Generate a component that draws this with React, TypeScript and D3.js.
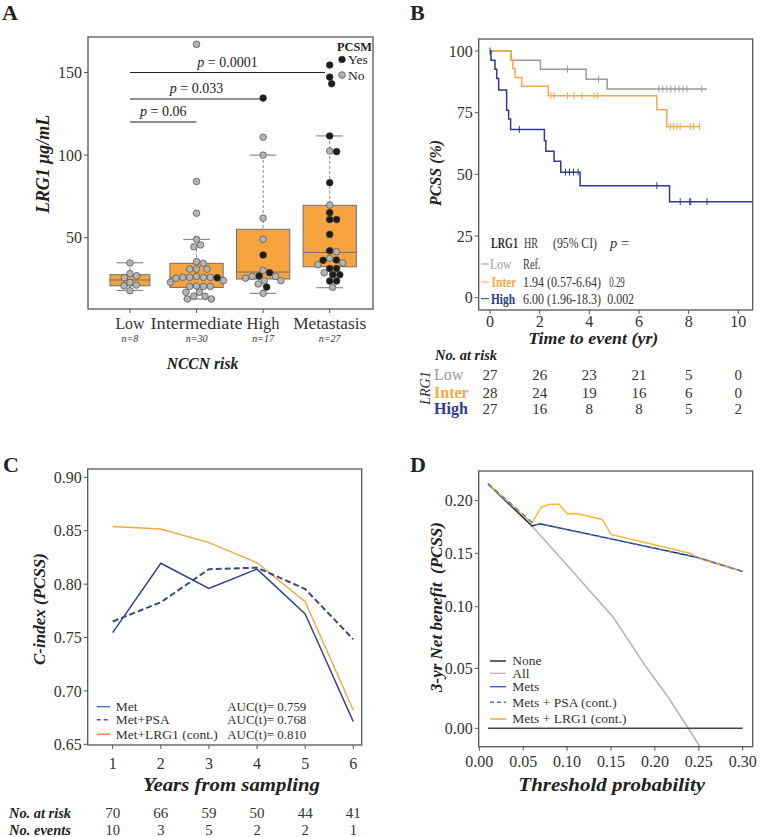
import React from 'react';
import * as d3 from 'd3';

// ---------- Panel A data ----------
const categories = ['Low', 'Intermediate', 'High', 'Metastasis'];
const categoryN = ['n=8', 'n=30', 'n=17', 'n=27'];
const lowVals = [34.7, 28.2, 27.0, 25.8, 23.0, 21.3, 20.9, 17.9];
const lowPcsm = [0, 0, 0, 0, 0, 0, 0, 0];
const interVals = [167, 84, 64.8, 49, 45.6, 44.5, 35.5, 34.5, 31, 31, 31, 26.5, 26, 26, 26, 25.8, 26, 25.5, 24, 23, 20.5, 20.5, 20.8, 20.5, 17, 17, 14.6, 14.6, 12.9, 12.9];
const interPcsm = [0, 0, 0, 0, 0, 0, 0, 0, 0, 0, 0, 0, 0, 0, 0, 1, 0, 0, 0, 0, 0, 0, 0, 0, 0, 0, 0, 0, 0, 0];
const highVals = [134.5, 110.8, 100, 61.8, 49, 39.5, 30.2, 28.8, 26.8, 26.6, 26.6, 25.5, 24, 24, 22, 20.1, 16.3];
const highPcsm = [1, 0, 0, 0, 0, 1, 0, 1, 1, 0, 0, 0, 0, 0, 0, 1, 0];
const metVals = [154.5, 147.2, 143.2, 111.6, 102.5, 102.1, 83.3, 69.8, 65.2, 61, 61, 52, 42.1, 41.5, 37.5, 36.3, 36.5, 34.8, 33.6, 31.3, 31.3, 28.8, 27.6, 27.6, 23.8, 23.8, 20];
const metPcsm = [1, 1, 1, 1, 0, 1, 1, 0, 1, 1, 1, 1, 1, 0, 0, 1, 1, 0, 0, 1, 1, 0, 1, 1, 1, 1, 0];
const boxQ1 = [20.9, 19.9, 25, 32.4];
const boxMedian = [24.4, 26, 29.2, 41.1];
const boxQ3 = [27.6, 34.5, 55.1, 69.6];
const whiskerLo = [18.1, 12.9, 16.3, 19.7];
const whiskerHi = [34.8, 49, 100, 111.6];
const boxWidth = [0.6, 0.8, 0.8, 0.8];
const yTicksA = [50, 100, 150];
const pBrackets = [
  { label: '0.06', from: 1, to: 2, y: 120 },
  { label: '0.033', from: 1, to: 3, y: 134 },
  { label: '0.0001', from: 1, to: 3.93, y: 150 },
];

// ---------- Panel B data ----------
const lowTimes = [0, 0.85, 2.03, 3.87, 4.72, 8.74];
const lowSurv = [100, 96.3, 92.6, 88.5, 84.6, 84.6];
const lowCens = [3.12, 4.37, 6.8, 6.96, 7.12, 7.29, 7.45, 7.61, 7.77, 7.93, 8.53];
const interTimes = [0, 0.85, 0.92, 1.01, 1.28, 2.35, 6.72, 7.12, 8.47];
const interSurv = [100, 96.4, 92.9, 89.3, 85.7, 81.9, 76.2, 69.4, 69.4];
const interCens = [2.45, 2.58, 3.12, 3.39, 3.71, 4.19, 4.33, 7.26, 7.39, 7.53, 7.66, 8.06, 8.2, 8.44];
const highTimes = [0, 0.04, 0.2, 0.27, 0.35, 0.67, 0.75, 0.83, 2.19, 2.25, 2.58, 2.85, 3.63, 7.23, 10.6];
const highSurv = [100, 96.3, 92.6, 88.9, 84.2, 76.0, 72.4, 68.2, 63.6, 59.4, 55.3, 50.9, 45.4, 38.9, 38.9];
const highCens = [0, 1.18, 3.04, 3.2, 3.36, 3.55, 6.72, 7.66, 8.04, 8.09, 8.74];
const xTicksB = [0, 2, 4, 6, 8, 10];
const yTicksB = [0, 25, 50, 75, 100];
const riskLow = [27, 26, 23, 21, 5, 0];
const riskInter = [28, 24, 19, 16, 6, 0];
const riskHigh = [27, 16, 8, 8, 5, 2];

// ---------- Panel C data ----------
const cYears = [1, 2, 3, 4, 5, 6];
const cMet = [0.7545, 0.8195, 0.796, 0.814, 0.772, 0.6712];
const cMetPSA = [0.765, 0.783, 0.814, 0.8154, 0.7954, 0.7483];
const cMetLRG1 = [0.854, 0.8516, 0.8388, 0.82, 0.7835, 0.6818];
const yTicksC = [0.65, 0.7, 0.75, 0.8, 0.85, 0.9];
const atRiskC = [70, 66, 59, 50, 44, 41];
const eventsC = [10, 3, 5, 2, 2, 1];
const cLegend = ['Met', 'Met+PSA', 'Met+LRG1 (cont.)'];
const cAuc = ['AUC(t)= 0.759', 'AUC(t)= 0.768', 'AUC(t)= 0.810'];

// ---------- Panel D data ----------
const noneT = [0.01, 0.3];
const noneNB = [0, 0];
const allT = [0.01, 0.06, 0.115, 0.153, 0.19, 0.215, 0.238, 0.252];
const allNB = [0.216, 0.176, 0.125, 0.091, 0.051, 0.026, 0, -0.016];
const metsT = [0.01, 0.06, 0.069, 0.15, 0.2476, 0.3];
const metsNB = [0.216, 0.176, 0.178, 0.1637, 0.1463, 0.133];
const psaT = [0.01, 0.058, 0.064, 0.069, 0.15, 0.2476, 0.3];
const psaNB = [0.216, 0.181, 0.177, 0.178, 0.1637, 0.1463, 0.133];
const lrgT = [0.01, 0.06, 0.0703, 0.0805, 0.0908, 0.1003, 0.111, 0.14, 0.15, 0.24, 0.2495, 0.3];
const lrgNB = [0.216, 0.1788, 0.1938, 0.1966, 0.1966, 0.1875, 0.1878, 0.1822, 0.168, 0.15, 0.1453, 0.133];
const xTicksD = [0, 0.05, 0.1, 0.15, 0.2, 0.25, 0.3];
const yTicksD = [0, 0.05, 0.1, 0.15, 0.2];
const dLegend = ['None', 'All', 'Mets', 'Mets + PSA (cont.)', 'Mets + LRG1 (cont.)'];

// ---------- styles ----------
const FONT = "'Liberation Serif', 'Times New Roman', serif";
const FRAME = '#555555';
const BOX_FILL = '#F6A43F';
const KM_GRAY = '#9b9b9b';
const KM_ORANGE = '#F7A847';
const KM_BLUE = '#2D3A8E';
const C_ORANGE = '#F3A83C';
const C_BLUE = '#2E3E90';
const C_DASH = '#3B4B80';
const D_ORANGE = '#FDB934';
const D_METS = '#222a55';
const D_DASH = '#4B78D8';

function swarm(ys: number[], r: number): number[] {
  const idx = ys.map((_, i) => i).sort((a, b) => ys[a] - ys[b]);
  const placed: { x: number; y: number }[] = [];
  const xs = new Array(ys.length).fill(0);
  const d = 2 * r + 0.3;
  for (const i of idx) {
    const y = ys[i];
    const cands = [0];
    for (const p of placed) {
      const dy = Math.abs(p.y - y);
      if (dy < d) {
        const dx = Math.sqrt(d * d - dy * dy);
        cands.push(p.x + dx, p.x - dx);
      }
    }
    cands.sort((a, b) => Math.abs(a) - Math.abs(b));
    for (const c of cands) {
      if (placed.every((p) => (p.x - c) ** 2 + (p.y - y) ** 2 >= d * d - 0.01)) {
        xs[i] = c;
        placed.push({ x: c, y });
        break;
      }
    }
  }
  return xs;
}

function stepAt(times: number[], surv: number[], t: number) {
  const i = Math.max(0, d3.bisectRight(times, t) - 1);
  return surv[i];
}

const zip = (a: number[], b: number[]) => a.map((v, i) => [v, b[i]] as [number, number]);

export default function App() {
  const xA = d3.scaleLinear().domain([0.37, 4.65]).range([88, 373]);
  const yA = d3.scaleLinear().domain([50, 150]).range([237.7, 72.5]);
  const aTop = 37, aBot = 309;
  const groups = [
    { vals: lowVals, pc: lowPcsm },
    { vals: interVals, pc: interPcsm },
    { vals: highVals, pc: highPcsm },
    { vals: metVals, pc: metPcsm },
  ];
  const R = 3.3;
  const catLen = [29, 92, 33, 73];

  const xB = d3.scaleLinear().domain([0, 10]).range([490, 738.3]);
  const yB = d3.scaleLinear().domain([0, 100]).range([297.7, 51]);
  const bL = 478.7, bR = 752.7, bT = 39, bB = 310;
  const km = d3.line<[number, number]>().x((d) => xB(d[0])).y((d) => yB(d[1])).curve(d3.curveStepAfter);
  const kmSets = [
    { t: lowTimes, s: lowSurv, c: lowCens, col: KM_GRAY },
    { t: interTimes, s: interSurv, c: interCens, col: KM_ORANGE },
    { t: highTimes, s: highSurv, c: highCens, col: KM_BLUE },
  ];

  const xC = d3.scaleLinear().domain([1, 6]).range([112.7, 353.3]);
  const yC = d3.scaleLinear().domain([0.65, 0.9]).range([744.3, 477.3]);
  const cL = 87.7, cR = 361.7, cT = 469, cB = 745;
  const lineC = d3.line<[number, number]>().x((d) => xC(d[0])).y((d) => yC(d[1]));

  const xD = d3.scaleLinear().domain([0, 0.3]).range([479.3, 742.7]);
  const yD = d3.scaleLinear().domain([0, 0.05, 0.1, 0.15, 0.2]).range([728.3, 668.3, 606.7, 553.3, 500.7]);
  const dL = 478.7, dR = 752.7, dT = 471, dB = 746.7;
  const lineD = d3.line<[number, number]>().x((d) => xD(d[0])).y((d) => yD(d[1]));

  const tickFS = 16;
  const adj = 'spacingAndGlyphs';

  return (
    <svg width={760} height={837} style={{ position: 'absolute', left: 0, top: 0, background: '#fff' }} fontFamily={FONT}>
      <defs>
        <clipPath id="clipB"><rect x={bL} y={bT} width={bR - bL} height={bB - bT} /></clipPath>
        <clipPath id="clipD"><rect x={dL} y={dT} width={dR - dL} height={dB - dT} /></clipPath>
      </defs>
      <rect x={0} y={0} width={760} height={837} fill="#fff" />

      <text x={2} y={20} fontSize={22} fontWeight="bold" fill="#222">A</text>
      <text x={410} y={20} fontSize={22} fontWeight="bold" fill="#222">B</text>
      <text x={3} y={472} fontSize={22} fontWeight="bold" fill="#222">C</text>
      <text x={410} y={472} fontSize={22} fontWeight="bold" fill="#222">D</text>

      {/* ================= Panel A ================= */}
      <g>
        {categories.map((c, i) => {
          const cx = xA(i + 1);
          const hw = (xA(boxWidth[i]) - xA(0)) / 2;
          const cap = (xA(0.4) - xA(0)) / 2;
          return (
            <g key={c}>
              <line x1={cx} x2={cx} y1={yA(whiskerHi[i])} y2={yA(boxQ3[i])} stroke="#888" strokeDasharray="3,2" />
              <line x1={cx} x2={cx} y1={yA(boxQ1[i])} y2={yA(whiskerLo[i])} stroke="#888" strokeDasharray="3,2" />
              <line x1={cx - cap} x2={cx + cap} y1={yA(whiskerHi[i])} y2={yA(whiskerHi[i])} stroke="#777" />
              <line x1={cx - cap} x2={cx + cap} y1={yA(whiskerLo[i])} y2={yA(whiskerLo[i])} stroke="#777" />
              <rect x={cx - hw} y={yA(boxQ3[i])} width={2 * hw} height={yA(boxQ1[i]) - yA(boxQ3[i])} fill={BOX_FILL} stroke="#6e6e6e" strokeWidth={1} />
              <line x1={cx - hw} x2={cx + hw} y1={yA(boxMedian[i])} y2={yA(boxMedian[i])} stroke="#6e6e6e" strokeWidth={1} />
            </g>
          );
        })}
        {groups.map((g, gi) => {
          const ys = g.vals.map((v) => yA(v));
          const offs = swarm(ys, R);
          return (
            <g key={gi}>
              {g.vals.map((v, j) => (
                <circle key={j} cx={xA(gi + 1) + offs[j]} cy={ys[j]} r={R}
                  fill={g.pc[j] ? '#1c1c1c' : '#b4b4b4'} stroke={g.pc[j] ? '#333' : '#5a5a5a'} strokeWidth={0.8} />
              ))}
            </g>
          );
        })}
        {pBrackets.map((b) => (
          <g key={b.label}>
            <line x1={xA(b.from)} x2={xA(b.to)} y1={yA(b.y)} y2={yA(b.y)} stroke="#222" strokeWidth={1.1} />
            <text x={(xA(b.from) + xA(b.to)) / 2} y={yA(b.y) - 6} fontSize={14} textAnchor="middle" fill="#222">
              <tspan fontStyle="italic">p</tspan> = {b.label}
            </text>
          </g>
        ))}
        <text x={337} y={50.5} fontSize={13} fontWeight="bold" fill="#222" textLength={35} lengthAdjust={adj}>PCSM</text>
        <circle cx={342} cy={59.5} r={3.3} fill="#1c1c1c" stroke="#333" strokeWidth={0.8} />
        <text x={348} y={64} fontSize={13.5} fill="#222">Yes</text>
        <circle cx={342} cy={75} r={3.3} fill="#b4b4b4" stroke="#5a5a5a" strokeWidth={0.8} />
        <text x={348} y={79.5} fontSize={13.5} fill="#222">No</text>
        <rect x={88} y={aTop} width={373 - 88} height={aBot - aTop} fill="none" stroke={FRAME} strokeWidth={1.3} />
        {yTicksA.map((t) => (
          <g key={t}>
            <line x1={84} x2={88} y1={yA(t)} y2={yA(t)} stroke={FRAME} />
            <text x={82} y={yA(t)} dy="0.35em" fontSize={tickFS} textAnchor="end" fill="#333">{t}</text>
          </g>
        ))}
        {categories.map((c, i) => (
          <g key={c}>
            <line x1={xA(i + 1)} x2={xA(i + 1)} y1={aBot} y2={aBot + 4} stroke={FRAME} />
            <text x={xA(i + 1)} y={328.5} fontSize={tickFS} textAnchor="middle" fill="#333" textLength={catLen[i]} lengthAdjust={adj}>{c}</text>
            <text x={xA(i + 1)} y={342} fontSize={10} fontStyle="italic" textAnchor="middle" fill="#333">{categoryN[i]}</text>
          </g>
        ))}
        <text x={202.5} y={369} fontSize={16} fontWeight="bold" fontStyle="italic" textAnchor="middle" fill="#222" textLength={71.7} lengthAdjust={adj}>NCCN risk</text>
        <text transform="translate(49,164) rotate(-90)" fontSize={18} fontWeight="bold" fontStyle="italic" textAnchor="middle" fill="#222">LRG1 μg/mL</text>
      </g>

      {/* ================= Panel B ================= */}
      <g>
        <g clipPath="url(#clipB)">
          {kmSets.map((k, i) => (
            <g key={i}>
              <path d={km(zip(k.t, k.s)) || ''} fill="none" stroke={k.col} strokeWidth={1.5} />
              {k.c.map((ct, j) => {
                const yy = yB(stepAt(k.t, k.s, ct));
                return <line key={j} x1={xB(ct)} x2={xB(ct)} y1={yy - 3.5} y2={yy + 3.5} stroke={k.col} strokeWidth={1} />;
              })}
            </g>
          ))}
        </g>
        <rect x={bL} y={bT} width={bR - bL} height={bB - bT} fill="none" stroke={FRAME} strokeWidth={1.3} />
        {yTicksB.map((t) => (
          <g key={t}>
            <line x1={bL - 4} x2={bL} y1={yB(t)} y2={yB(t)} stroke={FRAME} />
            <text x={bL - 6} y={yB(t)} dy="0.35em" fontSize={tickFS} textAnchor="end" fill="#333">{t}</text>
          </g>
        ))}
        {xTicksB.map((t) => (
          <g key={t}>
            <line x1={xB(t)} x2={xB(t)} y1={bB} y2={bB + 4} stroke={FRAME} />
            <text x={xB(t)} y={327} fontSize={tickFS} textAnchor="middle" fill="#333">{t}</text>
          </g>
        ))}
        <text x={593.3} y={343.5} fontSize={17} fontWeight="bold" fontStyle="italic" textAnchor="middle" fill="#222" textLength={130} lengthAdjust={adj}>Time to event (yr)</text>
        <text transform="translate(441,173) rotate(-90)" fontSize={16} fontWeight="bold" fontStyle="italic" textAnchor="middle" fill="#222">PCSS (%)</text>
        <g fontSize={14.5} fill="#333">
          <text x={491} y={247.5} fontWeight="bold" textLength={27} lengthAdjust={adj}>LRG1</text>
          <text x={524} y={247.5} textLength={14} lengthAdjust={adj}>HR</text>
          <text x={553} y={247.5} textLength={44} lengthAdjust={adj}>(95% CI)</text>
          <text x={610} y={247.5}><tspan fontStyle="italic">p</tspan> =</text>
          <line x1={481} x2={489} y1={264} y2={264} stroke={KM_GRAY} />
          <text x={490} y={269} fill={KM_GRAY} textLength={21.5} lengthAdjust={adj}>Low</text>
          <text x={523} y={269} textLength={17.5} lengthAdjust={adj}>Ref.</text>
          <line x1={481} x2={489} y1={282} y2={282} stroke={KM_ORANGE} />
          <text x={491.5} y={287} fill={KM_ORANGE} fontWeight="bold" textLength={25} lengthAdjust={adj}>Inter</text>
          <text x={523} y={287} textLength={78} lengthAdjust={adj}>1.94 (0.57-6.64)</text>
          <text x={609.3} y={287} textLength={15.4} lengthAdjust={adj}>0.29</text>
          <line x1={481} x2={489} y1={298.7} y2={298.7} stroke={KM_BLUE} />
          <text x={491} y={303.5} fill={KM_BLUE} fontWeight="bold" textLength={24} lengthAdjust={adj}>High</text>
          <text x={523} y={303.5} textLength={78} lengthAdjust={adj}>6.00 (1.96-18.3)</text>
          <text x={607.3} y={303.5} textLength={26.7} lengthAdjust={adj}>0.002</text>
        </g>
        <text x={435} y={360} fontSize={15} fontWeight="bold" fontStyle="italic" fill="#222" textLength={62} lengthAdjust={adj}>No. at risk</text>
        <text transform="translate(430,388) rotate(-90)" fontSize={14} fontStyle="italic" textAnchor="middle" fill="#333">LRG1</text>
        {[
          { lab: 'Low', vals: riskLow, col: KM_GRAY, w: 'normal', y: 380 },
          { lab: 'Inter', vals: riskInter, col: KM_ORANGE, w: 'bold', y: 397.5 },
          { lab: 'High', vals: riskHigh, col: KM_BLUE, w: 'bold', y: 414 },
        ].map((r) => (
          <g key={r.lab}>
            <text x={434} y={r.y} fontSize={16} fontWeight={r.w} fill={r.col}>{r.lab}</text>
            {r.vals.map((v, j) => (
              <text key={j} x={xB(xTicksB[j])} y={r.y} fontSize={15} textAnchor="middle" fill="#333">{v}</text>
            ))}
          </g>
        ))}
      </g>

      {/* ================= Panel C ================= */}
      <g>
        <path d={lineC(zip(cYears, cMetLRG1)) || ''} fill="none" stroke={C_ORANGE} strokeWidth={1.4} />
        <path d={lineC(zip(cYears, cMet)) || ''} fill="none" stroke={C_BLUE} strokeWidth={1.4} />
        <path d={lineC(zip(cYears, cMetPSA)) || ''} fill="none" stroke={C_DASH} strokeWidth={2} strokeDasharray="6,3" />
        <rect x={cL} y={cT} width={cR - cL} height={cB - cT} fill="none" stroke={FRAME} strokeWidth={1.3} />
        {yTicksC.map((t) => (
          <g key={t}>
            <line x1={cL - 4} x2={cL} y1={yC(t)} y2={yC(t)} stroke={FRAME} />
            <text x={cL - 6} y={yC(t)} dy="0.35em" fontSize={tickFS} textAnchor="end" fill="#333">{t.toFixed(2)}</text>
          </g>
        ))}
        {cYears.map((t, j) => (
          <g key={t}>
            <line x1={xC(t)} x2={xC(t)} y1={cB} y2={cB + 4} stroke={FRAME} />
            <text x={xC(t)} y={769} fontSize={tickFS} textAnchor="middle" fill="#333">{t}</text>
            <text x={xC(t)} y={818} fontSize={15} textAnchor="middle" fill="#333">{atRiskC[j]}</text>
            <text x={xC(t)} y={834.5} fontSize={14.5} textAnchor="middle" fill="#333">{eventsC[j]}</text>
          </g>
        ))}
        <text x={9} y={818} fontSize={15} fontWeight="bold" fontStyle="italic" fill="#222" textLength={62} lengthAdjust={adj}>No. at risk</text>
        <text x={9} y={834.5} fontSize={14.5} fontWeight="bold" fontStyle="italic" fill="#222" textLength={62} lengthAdjust={adj}>No. events</text>
        <text x={231.5} y={791} fontSize={18} fontWeight="bold" fontStyle="italic" textAnchor="middle" fill="#222" textLength={177} lengthAdjust={adj}>Years from sampling</text>
        <text transform="translate(45,609) rotate(-90)" fontSize={17} fontWeight="bold" fontStyle="italic" textAnchor="middle" fill="#222">C-index (PCSS)</text>
        {cLegend.map((l, i) => {
          const yy = [706.7, 719.8, 734.3][i];
          const col = ['#4A72CF', '#42589F', '#F7833A'][i];
          return (
            <g key={l}>
              <line x1={96.7} x2={110} y1={yy} y2={yy} stroke={col} strokeWidth={1.4} strokeDasharray={i === 1 ? '4,3' : undefined} />
              <text x={115.7} y={yy} dy="0.33em" fontSize={13.5} fill="#333">{l}</text>
              <text x={227.3} y={yy} dy="0.33em" fontSize={13.5} fill="#333" textLength={79} lengthAdjust={adj}>{cAuc[i]}</text>
            </g>
          );
        })}
      </g>

      {/* ================= Panel D ================= */}
      <g>
        <g clipPath="url(#clipD)">
          <path d={lineD(zip(allT, allNB)) || ''} fill="none" stroke="#b5b5b5" strokeWidth={1.6} />
          <path d={lineD(zip(noneT, noneNB)) || ''} fill="none" stroke="#444" strokeWidth={1.4} />
          <path d={lineD(zip(metsT, metsNB)) || ''} fill="none" stroke={D_METS} strokeWidth={1.5} />
          <path d={lineD(zip(lrgT, lrgNB)) || ''} fill="none" stroke={D_ORANGE} strokeWidth={1.5} />
          <path d={lineD(zip(psaT, psaNB)) || ''} fill="none" stroke={D_DASH} strokeWidth={1.4} strokeDasharray="5,4" />
        </g>
        <rect x={dL} y={dT} width={dR - dL} height={dB - dT} fill="none" stroke={FRAME} strokeWidth={1.3} />
        {yTicksD.map((t) => (
          <g key={t}>
            <line x1={dL - 4} x2={dL} y1={yD(t)} y2={yD(t)} stroke={FRAME} />
            <text x={dL - 6} y={yD(t)} dy="0.35em" fontSize={tickFS} textAnchor="end" fill="#333">{t.toFixed(2)}</text>
          </g>
        ))}
        {xTicksD.map((t) => (
          <g key={t}>
            <line x1={xD(t)} x2={xD(t)} y1={dB} y2={dB + 4} stroke={FRAME} />
            <text x={xD(t)} y={767} fontSize={tickFS} textAnchor="middle" fill="#333">{t.toFixed(2)}</text>
          </g>
        ))}
        <text x={611.7} y={791} fontSize={18} fontWeight="bold" fontStyle="italic" textAnchor="middle" fill="#222" textLength={186.7} lengthAdjust={adj}>Threshold probability</text>
        <text transform="translate(442,607) rotate(-90)" fontSize={17} fontWeight="bold" fontStyle="italic" textAnchor="middle" fill="#222" style={{ whiteSpace: 'pre' }}>3-yr Net benefit  (PCSS)</text>
        {dLegend.map((l, i) => {
          const yy = [661, 673.3, 686.7, 702.3, 719][i];
          const col = ['#222', '#bbbbbb', '#3A5FCD', '#4B78D8', '#F7A040'][i];
          return (
            <g key={l}>
              <line x1={490} x2={506} y1={yy} y2={yy} stroke={col} strokeWidth={1.4} strokeDasharray={i === 3 ? '4,3' : undefined} />
              <text x={512.3} y={yy} dy="0.33em" fontSize={13.5} fill="#333">{l}</text>
            </g>
          );
        })}
      </g>
    </svg>
  );
}
